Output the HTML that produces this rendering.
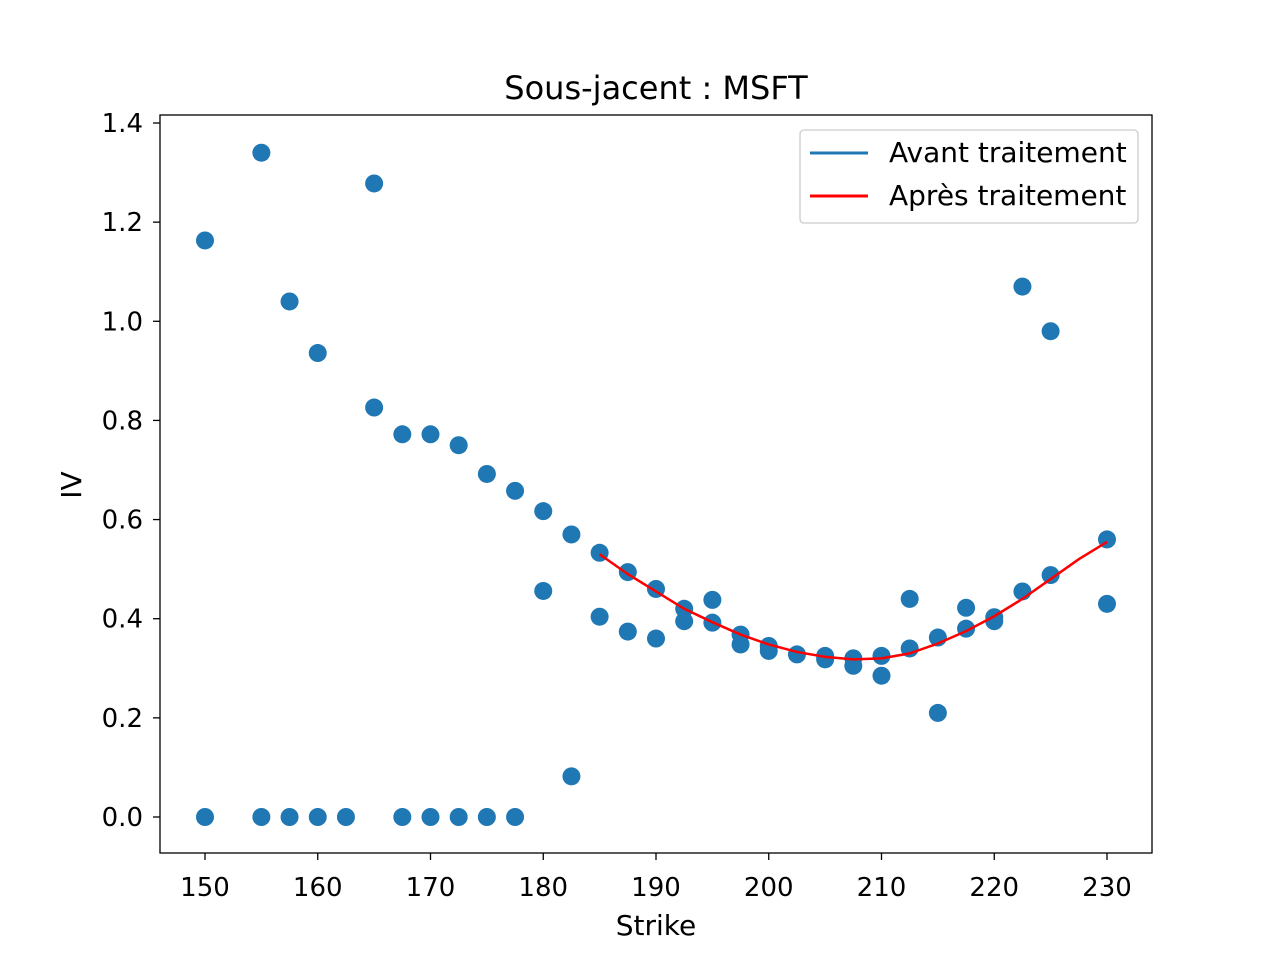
<!DOCTYPE html>
<html><head><meta charset="utf-8"><style>
html,body{margin:0;padding:0;background:#fff;}
svg text{font-family:"DejaVu Sans","Liberation Sans",sans-serif;}
</style></head><body>
<svg id="chart" width="1280" height="960" xmlns="http://www.w3.org/2000/svg">
<rect width="1280" height="960" fill="#fff"/>
<text x="656" y="99" font-size="32" text-anchor="middle">Sous-jacent : MSFT</text>
<text x="656" y="935" font-size="28" text-anchor="middle">Strike</text>
<text x="0" y="0" font-size="28" text-anchor="middle" transform="translate(81,485) rotate(-90)">IV</text>
<g id="ticks"></g>
<g id="marks"></g>
<rect x="160" y="115" width="992" height="738" fill="none" stroke="#000" stroke-width="1.3"/>
<g>
<rect x="800" y="130" width="338" height="93" rx="4" fill="#fff" stroke="#ccc" stroke-width="1.3"/>
<line x1="810" y1="153" x2="868" y2="153" stroke="#1f77b4" stroke-width="3"/>
<text x="889" y="162" font-size="28">Avant traitement</text>
<line x1="810" y1="196" x2="868" y2="196" stroke="#ff0000" stroke-width="3"/>
<text x="889" y="205" font-size="28">Après traitement</text>
</g>
</svg>
<script>
const strikes=[150,150,155,155,157.5,157.5,160,160,162.5,165,165,167.5,167.5,170,170,172.5,172.5,175,175,177.5,177.5,180,180,182.5,182.5,185,185,187.5,187.5,190,190,192.5,192.5,195,195,197.5,197.5,200,200,202.5,205,205,207.5,207.5,210,210,212.5,212.5,215,215,217.5,217.5,220,220,222.5,222.5,225,225,230,230];
const ivs=[1.163,0,1.34,0,1.04,0,0.936,0,0,1.278,0.826,0.772,0,0.772,0,0.75,0,0.692,0,0.658,0,0.617,0.456,0.57,0.082,0.533,0.404,0.494,0.374,0.46,0.36,0.42,0.395,0.438,0.392,0.368,0.348,0.345,0.335,0.328,0.325,0.318,0.32,0.305,0.325,0.285,0.44,0.34,0.362,0.21,0.422,0.38,0.403,0.395,1.07,0.455,0.98,0.488,0.56,0.43];
const fitStrikes=[185,187.5,190,192.5,195,197.5,200,202.5,205,207.5,210,212.5,215,217.5,220,222.5,225,227.5,230];
const fitIvs=[0.53,0.49,0.455,0.42,0.393,0.368,0.348,0.333,0.323,0.318,0.32,0.33,0.35,0.375,0.405,0.44,0.48,0.52,0.555];
const xTicks=[150,160,170,180,190,200,210,220,230];
const yTicks=[0.0,0.2,0.4,0.6,0.8,1.0,1.2,1.4];
const NS="http://www.w3.org/2000/svg";
const xs=v=>205+(v-150)*(902/80);
const ys=v=>817-v*(694/1.4);
const tg=document.getElementById('ticks'), mg=document.getElementById('marks');
function el(t,a,p){const e=document.createElementNS(NS,t);for(const k in a)e.setAttribute(k,a[k]);p.appendChild(e);return e;}
xTicks.forEach(t=>{
 const l=el('line',{x1:xs(t),x2:xs(t),y1:853,y2:860,stroke:'#000','stroke-width':1.3},tg);
 
 
 const tx=el('text',{x:xs(t),y:896,'font-size':26,'text-anchor':'middle'},tg);tx.textContent=t;
 
 
});
yTicks.forEach(t=>{
 const l=el('line',{x1:153,x2:160,y1:ys(t),y2:ys(t),stroke:'#000','stroke-width':1.3},tg);
 
 
 const tx=el('text',{x:143,y:ys(t)+9,'font-size':26,'text-anchor':'end'},tg);tx.textContent=t.toFixed(1);
 
 
});
strikes.forEach((s,i)=>{
 const c=el('circle',{cx:xs(s),cy:ys(ivs[i]),r:9,fill:'#1f77b4'},mg);
 
 
});
const p=el('polyline',{points:fitStrikes.map((s,i)=>xs(s)+','+ys(fitIvs[i])).join(' '),fill:'none',stroke:'#ff0000','stroke-width':2.5},mg);


</script>
</body></html>
